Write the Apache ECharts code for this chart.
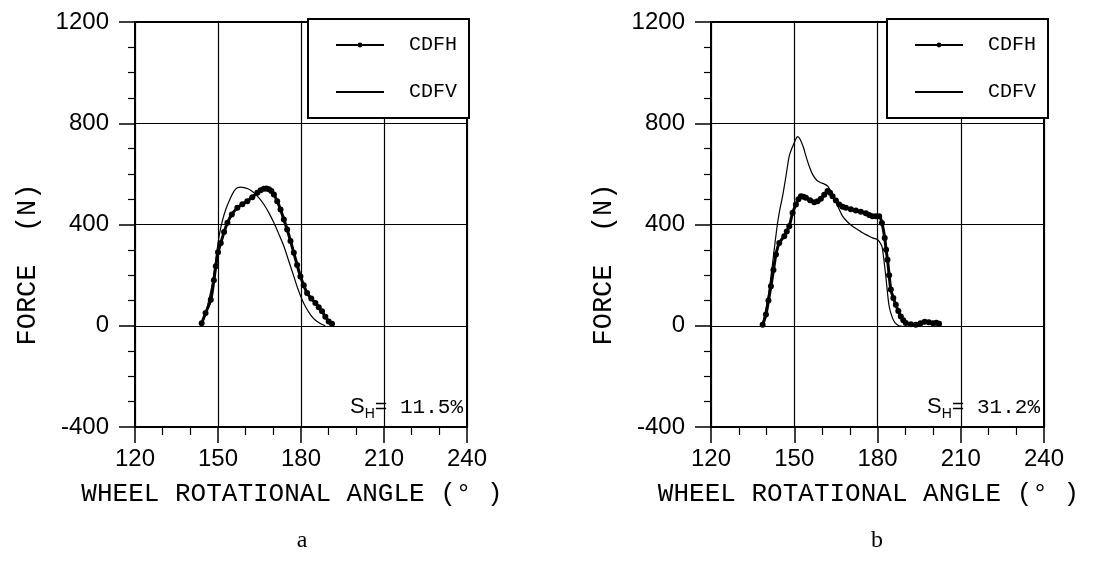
<!DOCTYPE html>
<html>
<head>
<meta charset="utf-8">
<script src="https://cdn.jsdelivr.net/npm/echarts@6/dist/echarts.min.js"></script>
<style>
  html, body { margin: 0; background: #fff; }
  #chart { width: 1105px; height: 561px; }
</style>
</head>
<body>
<div id="chart"></div>
<script>
// panel a
const aCdfhAngle = [144.1, 145.5, 147.4, 148.5, 149.2, 150, 151, 152.2, 153.4, 155, 157, 158.8, 160.6, 162.4, 164.2, 165.4, 166.6, 167.5, 168.4, 169.3, 170.2, 171.4, 172.6, 173.8, 175, 176.2, 177.4, 178.6, 179.8, 181, 182.2, 183.7, 185.2, 186.4, 187.6, 188.8, 190, 191.2]
const aCdfhForce = [10, 50, 103, 180, 235, 290, 327, 370, 407, 440, 466, 480, 492, 508, 525, 535, 541, 542, 539, 532, 519, 492, 459, 420, 380, 335, 288, 240, 195, 160, 129, 108, 90, 73, 57, 36, 17, 8]
const aCdfvAngle = [144.4, 146, 148, 149.2, 150.4, 151.6, 152.8, 154.3, 155.8, 157, 158.2, 159.4, 160.6, 161.8, 163, 164.8, 166.6, 168.4, 170.2, 172, 173.8, 175.6, 177.4, 178.9, 180.4, 181.9, 183.4, 184.6, 185.8, 187.3, 188.8]
const aCdfvForce = [10, 70, 169, 260, 354, 415, 459, 500, 532, 545, 548, 546, 542, 535, 525, 505, 479, 446, 407, 362, 314, 255, 195, 145, 103, 70, 44, 28, 17, 7, 0]

// panel b
const bCdfhAngle = [138.6, 139.8, 140.7, 141.6, 142.5, 143.4, 144.6, 146.4, 147.3, 148.2, 149.4, 150.6, 151.5, 152.4, 153.3, 154.2, 155.7, 157.2, 158.4, 159.6, 160.8, 162, 162.9, 163.8, 165, 166.2, 167.4, 168.6, 170.4, 172.2, 174, 175.8, 177, 178.2, 179.4, 180.6, 181.6, 182.6, 183.1, 183.6, 184.2, 184.8, 185.7, 186.6, 187.5, 188.4, 189.3, 190.2, 192, 193.8, 195.5, 197, 198.5, 200, 201.2, 202.2]
const bCdfhForce = [4, 44, 100, 156, 220, 281, 327, 354, 372, 393, 446, 479, 500, 512, 510, 506, 496, 488, 492, 502, 518, 532, 525, 512, 495, 479, 470, 466, 460, 455, 450, 444, 438, 433, 433, 433, 406, 347, 300, 261, 200, 143, 110, 83, 58, 37, 22, 11, 6, 4, 10, 16, 14, 10, 12, 8]
const bCdfvAngle = [138.6, 139.5, 140.4, 141.3, 142.2, 143.1, 144, 144.9, 145.8, 147, 148.2, 149.1, 150, 150.6, 151.2, 151.8, 152.4, 153.3, 154.2, 155.4, 156.6, 158.1, 159.6, 160.8, 162, 162.9, 163.8, 165.6, 167.4, 169.2, 171, 172.8, 174.6, 176.4, 178.2, 179.1, 180, 180.8, 181.6, 182.3, 183, 183.6, 184.2, 185.1, 186, 186.9, 187.8, 190.2]
const bCdfvForce = [4, 50, 103, 170, 248, 330, 407, 465, 512, 590, 671, 700, 723, 738, 747, 742, 730, 705, 671, 630, 598, 575, 565, 560, 552, 537, 519, 475, 433, 410, 393, 380, 367, 357, 347, 344, 341, 330, 314, 260, 195, 130, 77, 40, 17, 6, 0, -3]

const angleTicks = [120, 240, 30]
const forceTicks = [-400, 1200, 400]
const shLabels = ['11.5%', '31.2%']
const captions = ['a', 'b']

const pairs = (xs, ys) => xs.map((x, i) => [x, ys[i]])

const sansFont = 'Liberation Sans'
const monoFont = 'Liberation Mono'
const grids = [
  { left: 135, top: 22, width: 332, height: 405 },
  { left: 711, top: 22, width: 333, height: 405 }
]

function xAxis(i) {
  return {
    type: 'value',
    gridIndex: i,
    min: angleTicks[0],
    max: angleTicks[1],
    interval: angleTicks[2],
    name: 'WHEEL ROTATIONAL ANGLE (° )',
    nameLocation: 'middle',
    nameGap: 54,
    nameTextStyle: { fontFamily: monoFont, fontSize: 26, color: '#000', padding: [0, 18, 0, 0] },
    axisLine: { onZero: false, lineStyle: { color: '#000', width: 2 } },
    axisTick: { length: 16, lineStyle: { color: '#000', width: 1.5 } },
    minorTick: { show: true, splitNumber: 3, length: 8, lineStyle: { color: '#000', width: 1.2 } },
    axisLabel: { color: '#000', fontFamily: sansFont, fontSize: 24, margin: 20 },
    splitLine: { show: true, lineStyle: { color: '#000', width: 1.2 } }
  }
}

function yAxis(i) {
  return {
    type: 'value',
    gridIndex: i,
    min: forceTicks[0],
    max: forceTicks[1],
    interval: forceTicks[2],
    name: 'FORCE  (N)',
    nameLocation: 'middle',
    nameRotate: 90,
    nameGap: 94,
    nameTextStyle: { fontFamily: monoFont, fontSize: 27, color: '#000', padding: [0, 80, 0, 0] },
    axisLine: { lineStyle: { color: '#000', width: 2 } },
    axisTick: { length: 16, lineStyle: { color: '#000', width: 1.5 } },
    minorTick: { show: true, splitNumber: 4, length: 7, lineStyle: { color: '#000', width: 1.2 } },
    axisLabel: { color: '#000', fontFamily: sansFont, fontSize: 24, margin: 26, formatter: v => String(v) },
    splitLine: { show: true, lineStyle: { color: '#000', width: 1.2 } }
  }
}

function legend(i) {
  return {
    left: i === 0 ? 308 : 887,
    top: 19,
    orient: 'vertical',
    data: ['CDFH', 'CDFV'],
    backgroundColor: '#fff',
    borderColor: '#000',
    borderWidth: 2,
    padding: [16, 12, 16, 27],
    itemGap: 27,
    itemWidth: 48,
    itemHeight: 6,
    selectedMode: false,
    textStyle: { fontFamily: monoFont, fontSize: 20, color: '#000', padding: [0, 0, 0, 20] }
  }
}

function hSeries(i, data) {
  return {
    name: 'CDFH',
    type: 'line',
    xAxisIndex: i,
    yAxisIndex: i,
    data: data,
    smooth: 0.3,
    symbol: 'circle',
    symbolSize: 6,
    showAllSymbol: true,
    itemStyle: { color: '#000' },
    lineStyle: { color: '#000', width: 3 },
    animation: false
  }
}

function vSeries(i, data) {
  return {
    name: 'CDFV',
    type: 'line',
    xAxisIndex: i,
    yAxisIndex: i,
    data: data,
    smooth: 0.3,
    symbol: 'none',
    itemStyle: { color: 'rgba(0,0,0,0)' },
    lineStyle: { color: '#000', width: 1.2 },
    animation: false
  }
}

function shText(i) {
  return {
    type: 'text',
    x: i === 0 ? 463 : 1040,
    y: 407,
    z: 10,
    style: {
      text: '{s|S}{h|H}{t|= ' + shLabels[i] + '}',
      align: 'right',
      verticalAlign: 'middle',
      rich: {
        s: { fontFamily: sansFont, fontSize: 22, fill: '#000' },
        h: { fontFamily: sansFont, fontSize: 14, fill: '#000', padding: [14, 0, 0, 0] },
        t: { fontFamily: monoFont, fontSize: 21, fill: '#000' }
      }
    }
  }
}

function caption(i) {
  return {
    type: 'text',
    x: i === 0 ? 302 : 877,
    y: 541,
    style: {
      text: captions[i],
      align: 'center',
      verticalAlign: 'middle',
      font: '24px "Liberation Serif"',
      fill: '#000'
    }
  }
}

const myChart = echarts.init(document.getElementById('chart'))
myChart.setOption({
  backgroundColor: '#fff',
  animation: false,
  grid: grids.map(g => Object.assign({ show: true, borderColor: '#000', borderWidth: 2, backgroundColor: 'transparent' }, g)),
  xAxis: [xAxis(0), xAxis(1)],
  yAxis: [yAxis(0), yAxis(1)],
  legend: [legend(0), legend(1)],
  series: [
    hSeries(0, pairs(aCdfhAngle, aCdfhForce)),
    vSeries(0, pairs(aCdfvAngle, aCdfvForce)),
    hSeries(1, pairs(bCdfhAngle, bCdfhForce)),
    vSeries(1, pairs(bCdfvAngle, bCdfvForce))
  ],
  graphic: [shText(0), shText(1), caption(0), caption(1)]
})
</script>
</body>
</html>
